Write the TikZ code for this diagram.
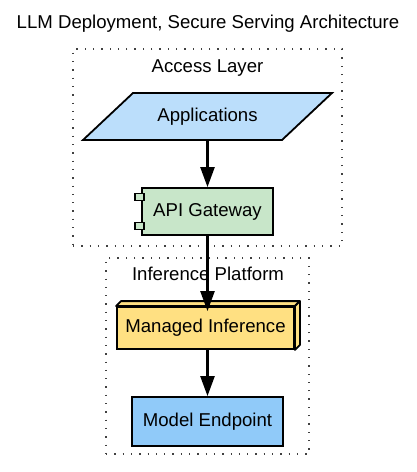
\documentclass[tikz,border=0pt]{standalone}
\usepackage{fontspec}
\setmainfont{Liberation Sans}
\usetikzlibrary{arrows.meta,calc}
\definecolor{appfill}{HTML}{BBDEFB}
\definecolor{gwfill}{HTML}{C8E6C9}
\definecolor{mifill}{HTML}{FFE082}
\definecolor{mefill}{HTML}{90CAF9}
\begin{document}
\begin{tikzpicture}[x=1pt,y=-1pt, font=\fontsize{18.6}{22}\selectfont,
  box/.style={draw=black, line width=1.8pt, inner sep=0pt},
  port/.style={draw=black, line width=1.4pt, fill=gwfill, inner sep=0pt, minimum width=9pt, minimum height=6.5pt},
  arr/.style={-{Triangle[length=20pt,width=14pt]}, line width=2.4pt},
  cluster/.style={draw=black!75, line width=1.3pt, dash pattern=on 1.3pt off 7pt, inner sep=0pt},
  lbl/.style={anchor=base, inner sep=0pt}
]
\useasboundingbox (0,0) rectangle (416,472);
\node[lbl] (title) at (208,28) {LLM Deployment, Secure Serving Architecture};
% clusters
\node[cluster, minimum width=269pt, minimum height=197pt] (access) at (207.5,147.5) {};
\node[lbl] (accesslbl) at (207.5,72) {Access Layer};
\node[cluster, minimum width=203pt, minimum height=196pt] (infer) at (207.5,356) {};
\node[lbl] (inferlbl) at (208,280) {Inference Platform};
% Applications (parallelogram)
\draw[box, fill=appfill] (83,140) -- (133,93) -- (332,93) -- (282,140) -- cycle;
\node[inner sep=0pt, minimum width=150pt, minimum height=47pt] (app) at (207.5,116.5) {Applications};
% API Gateway (component)
\node[box, fill=gwfill, minimum width=131pt, minimum height=47pt] (gw) at (207.5,211.5) {API Gateway};
\node[port] (gwp1) at ($(gw.west)+(-1.5,-14.5)$) {};
\node[port] (gwp2) at ($(gw.west)+(-1.5,14.5)$) {};
% Managed Inference (3D box)
\node[box, fill=mifill, minimum width=177pt, minimum height=42pt] (mi) at (205.5,328) {Managed Inference};
\draw[box, fill=mifill, line join=round] (mi.north west) -- ++(5,-5) -- ($(mi.north east)+(5,-5)$) -- (mi.north east) -- cycle;
\draw[box, fill=mifill, line join=round] (mi.north east) -- ++(5,-5) -- ($(mi.south east)+(5,-5)$) -- (mi.south east) -- cycle;
% Model Endpoint
\node[box, fill=mefill, minimum width=151pt, minimum height=49pt] (me) at (207.5,421.5) {Model Endpoint};
% connectors
\draw[arr] (app.south) -- (gw.north);
\draw[arr, shorten >=-5pt] (gw.south) -- (gw.south |- mi.north);
\draw[arr] (me.north |- mi.south) -- (me.north);
\end{tikzpicture}
\end{document}
